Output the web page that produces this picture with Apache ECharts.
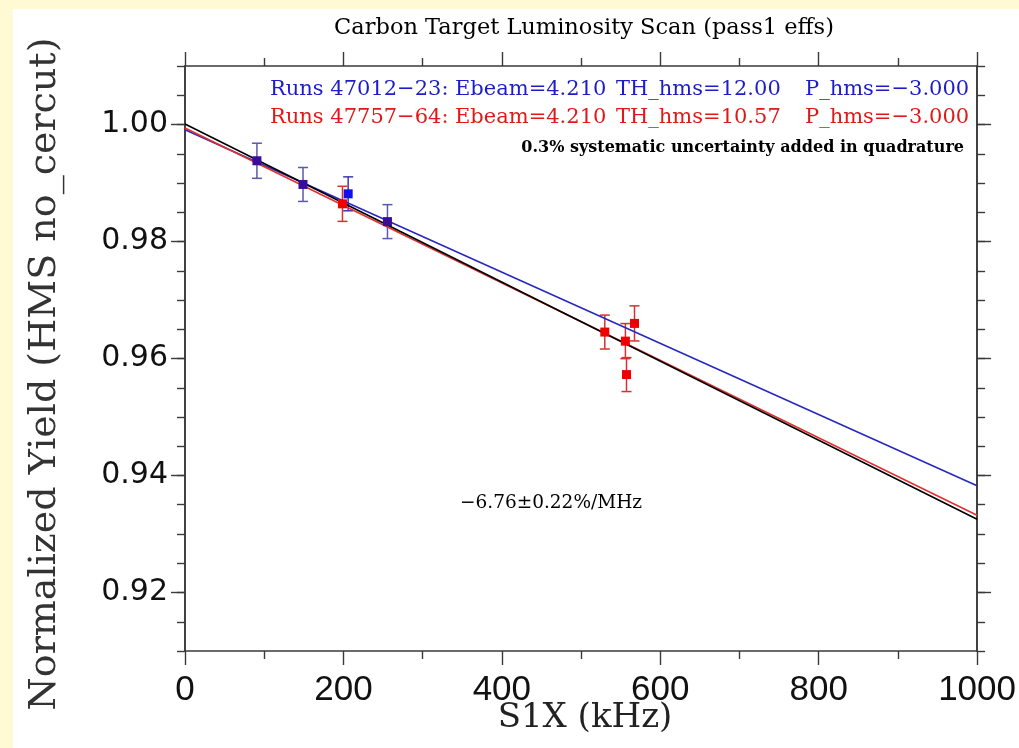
<!DOCTYPE html>
<html><head><meta charset="utf-8">
<script src="https://cdn.jsdelivr.net/npm/echarts@6/dist/echarts.min.js"></script>
<style>html,body{margin:0;padding:0;background:#fff9d4;} #c{width:1019px;height:748px;}</style>
</head><body><div id="c"></div>
<script>
// ---- text ----
const titleText = "Carbon Target Luminosity Scan (pass1 effs)";
const xName = "S1X (kHz)";
const yName = "Normalized Yield (HMS no_cercut)";
const blueLabel = ["Runs 47012\u221223:", "Ebeam=4.210", "TH_hms=12.00", "P_hms=\u22123.000"];
const redLabel  = ["Runs 47757\u221264:", "Ebeam=4.210", "TH_hms=10.57", "P_hms=\u22123.000"];
const noteText = "0.3% systematic uncertainty added in quadrature";
const slopeText = "\u22126.76\u00b10.22%/MHz";

// ---- axis ranges / ticks ----
const xMin = 0, xMax = 1000, xStep = 200, xMinorStep = 100;
const yMin = 0.91, yMax = 1.01, yMinorStep = 0.005;
const yTickValues = [0.92, 0.94, 0.96, 0.98, 1.00];

// ---- data ----
// points where both run sets overlap (drawn purple)
const bothX = [90.8, 149.0, 255.6];
const bothY = [0.9938, 0.98975, 0.9834];
const bothErr = [0.0030, 0.0029, 0.0029];
// blue run set (47012-23)
const blueX = [206.0];
const blueY = [0.98815];
const blueErr = [0.0029];
// red run set (47757-64)
const redX = [198.8, 530.0, 556.0, 557.4, 567.5];
const redY = [0.98644, 0.96452, 0.96297, 0.95725, 0.9660];
const redErr = [0.0030, 0.0029, 0.0030, 0.0029, 0.0030];
// fitted lines (end points)
const fitX = [0, 1000];
const blueFit = [0.9991, 0.93825];
const redFit = [0.9994, 0.9332];
const blackFit = [1.0001, 0.93253];

const chart = echarts.init(document.getElementById('c'));

function errSeries(xs, ys, es, color) {
  return {
    type: 'custom', silent: true, z: 3,
    encode: { x: 0, y: [1, 2] },
    data: xs.map((x, i) => [x, ys[i] - es[i], ys[i] + es[i]]),
    renderItem: function (params, api) {
      const lo = api.coord([api.value(0), api.value(1)]);
      const hi = api.coord([api.value(0), api.value(2)]);
      const w = 5;
      const st = { stroke: color, lineWidth: 1.5 };
      return { type: 'group', children: [
        { type: 'line', shape: { x1: lo[0], y1: lo[1], x2: hi[0], y2: hi[1] }, style: st },
        { type: 'line', shape: { x1: lo[0] - w, y1: lo[1], x2: lo[0] + w, y2: lo[1] }, style: st },
        { type: 'line', shape: { x1: hi[0] - w, y1: hi[1], x2: hi[0] + w, y2: hi[1] }, style: st }
      ]};
    }
  };
}
function ptSeries(xs, ys, color) {
  return { type: 'scatter', symbol: 'rect', symbolSize: 9, z: 5,
    itemStyle: { color: color, opacity: 1 },
    data: xs.map((x, i) => [x, ys[i]]) };
}
function fitSeries(vals, color) {
  return { type: 'line', showSymbol: false, z: 4,
    lineStyle: { color: color, width: 1.6 },
    data: fitX.map((x, i) => [x, vals[i]]) };
}

const axisLine = { show: true, lineStyle: { color: '#3a3a3a', width: 1.6 } };
const tickStyle = { color: '#3a3a3a', width: 1.4 };

function textEl(x, y, txt, opts) {
  return Object.assign({ type: 'text', x: x, y: y, silent: true,
    style: Object.assign({ text: txt, fill: '#000', font: '19px "DejaVu Serif"', textVerticalAlign: 'middle' }, opts || {}) });
}

const legendX = [270, 455, 616, 805];
const graphics = [
  { type: 'rect', shape: { x: 13, y: 9, width: 1019, height: 748 }, style: { fill: '#ffffff' }, z: -10, silent: true },
  textEl(584, 28, titleText, { textAlign: 'center', font: '22.5px "DejaVu Serif"' }),
  textEl(585, 718, xName, { textAlign: 'center', font: '34px "DejaVu Serif"', fill: '#222' }),
  { type: 'text', x: 45, y: 374, rotation: Math.PI / 2, silent: true,
    style: { text: yName, textAlign: 'center', textVerticalAlign: 'middle', fill: '#333', font: '38px "DejaVu Serif"' } },
  textEl(964, 148, noteText, { textAlign: 'right', font: 'bold 16px "DejaVu Serif"' }),
  textEl(551, 503, slopeText, { textAlign: 'center', font: '18.5px "DejaVu Serif"' })
];
blueLabel.forEach((t, i) => graphics.push(textEl(legendX[i], 90, t, { fill: '#1c1cc8', font: '21px "DejaVu Serif"' })));
redLabel.forEach((t, i) => graphics.push(textEl(legendX[i], 118, t, { fill: '#e01818', font: '21px "DejaVu Serif"' })));

function xAx(pos, showLabel) {
  return { type: 'value', min: xMin, max: xMax, interval: xStep, position: pos,
    axisLine: axisLine, axisTick: { show: true, inside: false, length: 14, lineStyle: tickStyle },
    minorTick: { show: true, splitNumber: xStep / xMinorStep, length: 8, lineStyle: tickStyle },
    splitLine: { show: false },
    axisLabel: showLabel ? { margin: 22, color: '#111', fontFamily: 'Liberation Sans', fontSize: 35,
      formatter: v => String(Math.round(v)) } : { show: false } };
}
function yMajor(pos, showLabel) {
  return { type: 'value', min: yMin, max: yMax, interval: yMinorStep, position: pos, offset: 0,
    axisLine: axisLine,
    axisTick: { show: true, inside: false, length: 14, lineStyle: tickStyle, customValues: yTickValues },
    splitLine: { show: false },
    axisLabel: showLabel ? { margin: 17, color: '#111', fontFamily: 'DejaVu Sans', fontSize: 30,
      customValues: yTickValues, formatter: v => v.toFixed(2) } : { show: false } };
}
function yMinor(pos) {
  return { type: 'value', min: yMin, max: yMax, interval: yMinorStep, position: pos, offset: 0,
    axisLine: axisLine,
    axisTick: { show: true, inside: false, length: 8, lineStyle: tickStyle },
    splitLine: { show: false }, axisLabel: { show: false } };
}

chart.setOption({
  animation: false,
  backgroundColor: 'transparent',
  grid: { left: 185, right: 41, top: 66, bottom: 97 },
  xAxis: [xAx('bottom', true), xAx('top', false)],
  yAxis: [yMajor('left', true), yMinor('left'), yMajor('right', false), yMinor('right')],
  graphic: graphics,
  series: [
    fitSeries(blueFit, '#2828c0'),
    fitSeries(redFit, '#e03030'),
    fitSeries(blackFit, '#000000'),
    errSeries(bothX, bothY, bothErr, '#5a5aaa'),
    errSeries(blueX, blueY, blueErr, '#3a3ab8'),
    errSeries(redX, redY, redErr, '#d83030'),
    ptSeries(bothX, bothY, '#3a0c9c'),
    ptSeries(blueX, blueY, '#1010e8'),
    ptSeries(redX, redY, '#ee0000')
  ]
});
</script></body></html>
